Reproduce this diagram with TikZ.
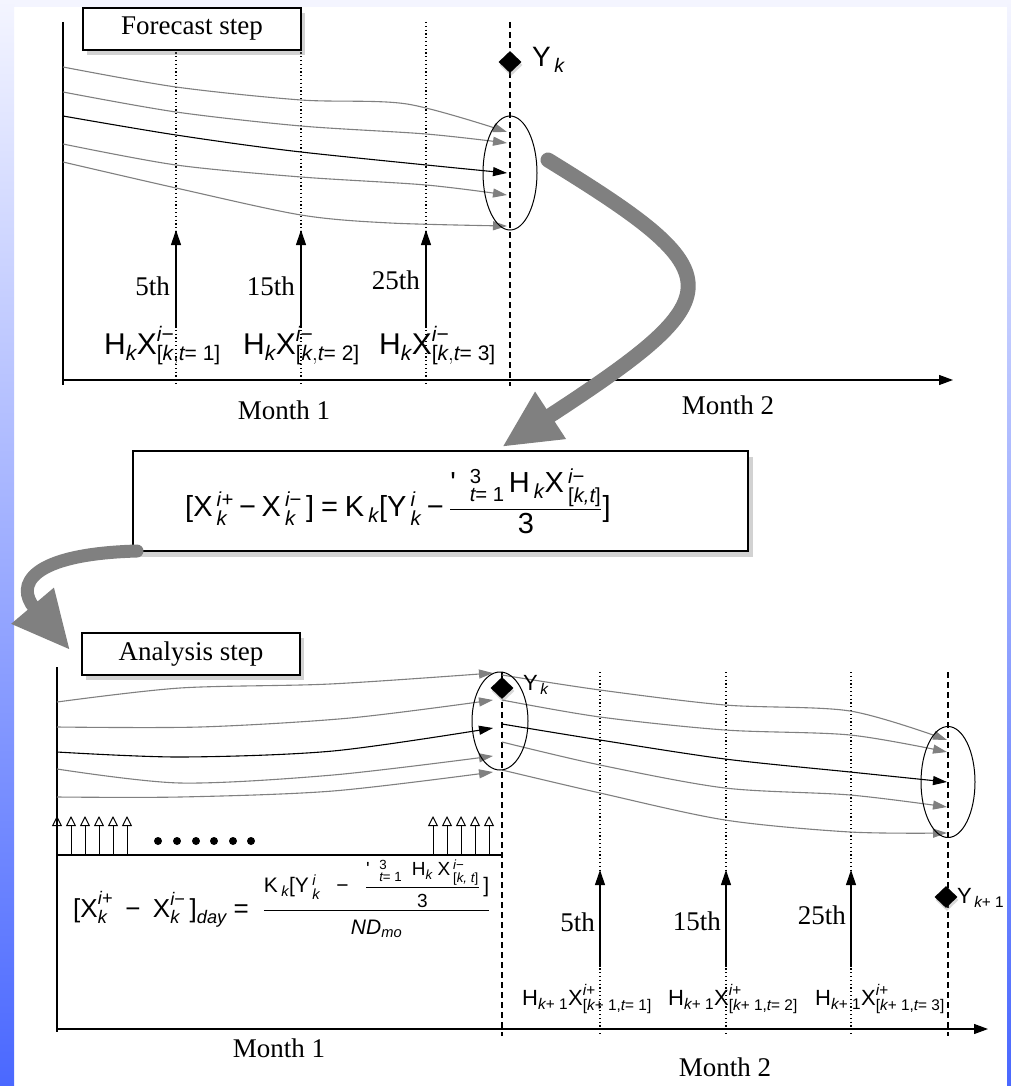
\documentclass[tikz,border=0pt]{standalone}
\usepackage{amsmath}
\usepackage{fontspec}
\setmainfont{Liberation Serif}
\newfontfamily\eqfont{Liberation Sans}
\usetikzlibrary{arrows.meta,positioning,shapes.geometric,shadows}

\definecolor{ensgray}{RGB}{128,128,128}
\definecolor{slidetop}{RGB}{244,245,255}
\definecolor{slidemid}{RGB}{178,188,255}
\definecolor{slidebot}{RGB}{74,104,255}

\newcommand{\ru}[1]{\text{\eqfont #1}}
\newcommand{\ri}[1]{\text{\eqfont\itshape #1}}
\newcommand{\mn}{\mathbin{\ru{−}}}
\newcommand{\eqs}{\mathrel{\ru{=}}}
\newcommand{\fsz}[2]{\text{\fontsize{#1}{#1}\selectfont$#2$}}

\begin{document}
\begin{tikzpicture}[x=1pt,y=-1pt,
  lbl/.style={font=\fontsize{27}{32}\selectfont,inner sep=0pt},
  mth/.style={font=\fontsize{30}{36}\selectfont,inner sep=0pt},
  smth/.style={font=\fontsize{22}{26}\selectfont,inner sep=0pt},
  stepbox/.style={draw,line width=1.2pt,fill=white,minimum width=218pt,minimum height=42pt,
    font=\fontsize{27}{32}\selectfont,drop shadow={shadow xshift=4pt,shadow yshift=-5pt,opacity=.35}},
  eqbox/.style={draw,line width=1.2pt,fill=white,minimum width=615pt,minimum height=100pt,
    drop shadow={shadow xshift=5pt,shadow yshift=-6pt,opacity=.35}},
  obs/.style={diamond,fill=black,minimum width=23pt,minimum height=22pt,inner sep=0pt,
    drop shadow={shadow xshift=1pt,shadow yshift=-3pt,opacity=.3}},
  spread/.style={ellipse,draw,line width=1pt,minimum width=54pt},
  ens/.style={draw=ensgray,line width=1.1pt,-{Triangle[length=14pt,width=9pt]}},
  meanline/.style={draw=black,line width=1.1pt,-{Triangle[length=14pt,width=9pt]}},
  axis/.style={line width=1.2pt},
  daymark/.style={line width=1.1pt,dash pattern=on 1.2pt off 2.6pt},
  obsline/.style={line width=1.1pt,dash pattern=on 6pt off 4pt},
  upobs/.style={line width=1.1pt,-{Triangle[length=15pt,width=10pt]}},
  dayobs/.style={line width=1pt,-{Triangle[open,length=10pt,width=10pt]}},
  bigarrow/.style={draw=ensgray,line cap=round,-{Triangle[length=58pt,width=52pt]}}]

\useasboundingbox (0,0) rectangle (1011,1086);
\fill[white] (0,0) rectangle (1011,1086);
\fill[slidetop] (0,0) rectangle (1011,7);
\shade[top color=slidetop,middle color=slidemid,bottom color=slidebot] (0,0) rectangle (14,1086);
\shade[top color=slidetop,middle color=slidemid,bottom color=slidebot] (1007,0) rectangle (1011,1086);

% forecast step
\coordinate (fy) at (63,22);
\coordinate (fo) at (63,380);
\coordinate (fx) at (953,380);
\draw[axis] (fy) -- (63,385);
\draw[axis,-{Triangle[length=14pt,width=10pt]}] (fo) -- (fx);
\foreach \x in {176,301,426} \draw[daymark] (\x,22) -- (\x,385);
\draw[obsline] (510,22) -- (510,386);

\foreach \n/\a/\b in {1/67/132,2/92/143,3/116/173,4/144/195,5/162/226}{
  \coordinate (fs\n) at (63,\a);
  \coordinate (fe\n) at (507,\b);
}
\draw[ens] plot[smooth] coordinates {(fs1) (176,87) (301,100) (407,104) (fe1)};
\draw[ens] plot[smooth] coordinates {(fs2) (176,112) (301,126) (426,134) (fe2)};
\draw[meanline] plot[smooth] coordinates {(fs3) (176,135) (301,152) (fe3)};
\draw[ens] plot[smooth] coordinates {(fs4) (176,165) (301,177) (426,185) (fe4)};
\draw[ens] plot[smooth] coordinates {(fs5) (176,188) (301,215) (390,223) (fe5)};
\node[spread,minimum height=114pt] (fspread) at (510,173) {};

\node[obs] (yk) at (510,62) {};
\node[mth,font=\fontsize{28}{34}\selectfont,anchor=base west] (yklab) at (532,67) {$\ru{Y}_{\,\ri{k}}$};

\foreach \x/\t/\y in {176/5th/286,301/15th/286,426/25th/280}{
  \coordinate (fb\x) at (\x,328);
  \coordinate (ft\x) at (\x,230);
  \draw[upobs] (fb\x) -- (ft\x);
  \node[lbl,anchor=east] at (\x-6,\y) {\t};
}
\node[mth,anchor=base west] (hx1) at (104,354) {$\ru{H}_{\ri{k}}\ru{X}^{\ri{i}\ru{−}}_{\ru{[}\ri{k},\ri{t}\ru{= 1]}}$};
\node[mth,anchor=base west] (hx2) at (243,354) {$\ru{H}_{\ri{k}}\ru{X}^{\ri{i}\ru{−}}_{\ru{[}\ri{k},\ri{t}\ru{= 2]}}$};
\node[mth,anchor=base west] (hx3) at (379,354) {$\ru{H}_{\ri{k}}\ru{X}^{\ri{i}\ru{−}}_{\ru{[}\ri{k},\ri{t}\ru{= 3]}}$};
\node[lbl] (fm1) at (284,410) {Month 1};
\node[lbl] (fm2) at (728,405) {Month 2};
\node[stepbox] (forecast) at (192,29) {Forecast step};

% update
\node[eqbox] (update) at (440.5,501) {};
\node[font=\fontsize{29}{34}\selectfont,inner sep=0pt,anchor=base west] (upeq) at (185,516)
  {$\ru{[X}\,{}^{\ri{i+}}_{\ri{k}} \mn \ru{X}\,{}^{\ri{i}\ru{−}}_{\ri{k}}\,\ru{]} \eqs \ru{K}\,{}_{\ri{k}}\ru{[Y}\,{}^{\ri{i}}_{\ri{k}} \mn
   \dfrac{\ru{\textquotesingle}\;\;{}^{\ru{3}}_{\ri{t}\ru{= 1}}\,\ru{H}\,{}_{\ri{k}}\ru{X}\,{}^{\ri{i}\ru{−}}_{\ru{[}\ri{k,t}\ru{]}}}{\ru{3}}\ru{]}$};

\coordinate (ga) at (548,160);
\coordinate (gb) at (502,447);
\draw[bigarrow,line width=15pt] (ga) .. controls (735,275) and (735,295) .. (gb);
\coordinate (gc) at (137,551);
\coordinate (gd) at (70,650);
\draw[bigarrow,line width=13pt] (gc) .. controls (30,554) and (15,585) .. (gd);

% analysis step
\coordinate (ay) at (57,667);
\coordinate (ao) at (57,1029);
\coordinate (ax) at (988,1029);
\draw[axis] (ay) -- (57,1032);
\draw[axis,-{Triangle[length=14pt,width=10pt]}] (ao) -- (ax);
\foreach \x in {600,726,851} \draw[daymark] (\x,672) -- (\x,1035);
\foreach \x in {502,948} \draw[obsline] (\x,672) -- (\x,1036);

\foreach \n/\a/\b in {1/702/673,2/727/700,3/752/728,4/769/756,5/797/772}{
  \coordinate (as\n) at (57,\a);
  \coordinate (ae\n) at (493,\b);
}
\draw[ens] plot[smooth] coordinates {(as1) (180,688) (330,684) (ae1)};
\draw[ens] plot[smooth] coordinates {(as2) (200,727) (350,718) (ae2)};
\draw[meanline] plot[smooth] coordinates {(as3) (180,757) (333,751) (ae3)};
\draw[ens] plot[smooth] coordinates {(as4) (180,783) (333,775) (ae4)};
\draw[ens] plot[smooth] coordinates {(as5) (180,797) (333,791) (ae5)};

\foreach \n/\a/\b in {1/675/740,2/700/752,3/724/782,4/742/807,5/770/833}{
  \coordinate (bs\n) at (502,\a);
  \coordinate (be\n) at (947,\b);
}
\draw[ens] plot[smooth] coordinates {(bs1) (600,690) (725,705) (850,711) (be1)};
\draw[ens] plot[smooth] coordinates {(bs2) (600,717) (725,730) (850,735) (be2)};
\draw[meanline] plot[smooth] coordinates {(bs3) (600,740) (725,759) (850,772) (be3)};
\draw[ens] plot[smooth] coordinates {(bs4) (600,765) (725,788) (850,795) (be4)};
\draw[ens] plot[smooth] coordinates {(bs5) (600,793) (725,820) (850,832) (be5)};
\node[spread,minimum width=56pt,minimum height=98pt] (aspread) at (500,721) {};
\node[spread,minimum height=111pt] (bspread) at (948,782) {};

\node[obs] (yk2) at (502,688) {};
\node[smth,anchor=base west] (yk2lab) at (523,690) {$\ru{Y}_{\,\ri{k}}$};
\node[obs] (yk3) at (946,897) {};
\node[smth,anchor=base west] (yk3lab) at (957,903) {$\ru{Y}_{\,\ri{k}\ru{+ 1}}$};

\coordinate (dl) at (57,855);
\coordinate (dr) at (502,855);
\draw[axis] (dl) -- (dr);
\foreach \x in {57,71,85,99,113,127,433,447,461,475,489} \draw[dayobs] (\x,855) -- (\x,816);
\foreach \x in {158,177,196,214,233,251} \fill (\x,841) circle (4);
\node[font=\fontsize{26}{30}\selectfont,inner sep=0pt,anchor=base west] (dayeq) at (73,917)
  {$\ru{[X}^{\ri{i+}}_{\ri{k}}\;\mn\;\ru{X}^{\ri{i}\ru{−}}_{\ri{k}}\,\ru{]}_{\ri{day}}\eqs\;
   \dfrac{\fsz{21}{\ru{K}\,{}_{\ri{k}}\ru{[Y}\,{}^{\ri{i}}_{\ri{k}}\;\;\mn\;\;
     \dfrac{\fsz{19}{\ru{\textquotesingle}\;\;{}^{\ru{3}}_{\ri{t}\ru{= 1}}\;\;\ru{H}_{\ri{k}}\;\ru{X}\,{}^{\ri{i}\ru{−}}_{\ru{[}\ri{k, t}\ru{]}}}}{\fsz{19}{\ru{3}}}\,\ru{]}}}
   {\fsz{21}{\ri{ND}_{\ri{mo}}}}$};

\foreach \x/\t/\y in {600/5th/922,726/15th/921,851/25th/915}{
  \coordinate (ab\x) at (\x,967);
  \coordinate (at\x) at (\x,870);
  \draw[upobs] (ab\x) -- (at\x);
  \node[lbl,anchor=east] at (\x-5,\y) {\t};
}
\node[smth,anchor=base west] (hy1) at (522,1005) {$\ru{H}_{\ri{k}\ru{+ 1}}\ru{X}^{\ri{i+}}_{\ru{[}\ri{k}\ru{+ 1,}\ri{t}\ru{= 1]}}$};
\node[smth,anchor=base west] (hy2) at (668,1005) {$\ru{H}_{\ri{k}\ru{+ 1}}\ru{X}^{\ri{i+}}_{\ru{[}\ri{k}\ru{+ 1,}\ri{t}\ru{= 2]}}$};
\node[smth,anchor=base west] (hy3) at (815,1005) {$\ru{H}_{\ri{k}\ru{+ 1}}\ru{X}^{\ri{i+}}_{\ru{[}\ri{k}\ru{+ 1,}\ri{t}\ru{= 3]}}$};
\node[lbl] (am1) at (279,1048) {Month 1};
\node[lbl] (am2) at (725,1067) {Month 2};
\node[stepbox] (analysis) at (191,654) {Analysis step};
\end{tikzpicture}
\end{document}
